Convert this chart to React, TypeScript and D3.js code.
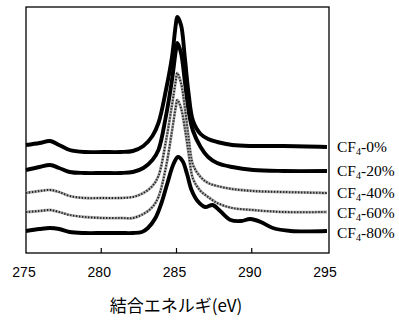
import * as d3 from 'd3'
import React, { useEffect, useRef } from 'react'

// binding energy (eV) sample points
const energy0 = [275.0, 275.9, 276.6, 277.2, 277.9, 278.9, 280.1, 281.3, 282.1, 282.8, 283.4, 283.8, 284.3, 284.7, 284.95, 285.05, 285.3, 285.55, 285.8, 286.1, 286.6, 287.1, 287.7, 288.7, 290.1, 292.1, 295.0]
const cf0 = [108, 110, 112, 108, 103, 101, 101, 101, 102, 107, 117, 130, 163, 196, 228, 236, 228, 196, 160, 132, 119, 114, 111, 108, 107, 107, 106]
const cf20 = [83, 86, 88, 85, 81, 80, 80, 80, 81, 85, 93, 103, 137, 173, 202, 210, 200, 172, 142, 122, 106, 96, 90, 86, 83, 82, 82]
const cf40 = [60, 62, 63, 61, 57, 55, 55, 55, 56, 60, 67, 77, 112, 148, 172, 180, 170, 146, 116, 88, 76, 70, 67, 64, 62, 61, 60]
const cf60 = [41, 42, 43, 41, 38, 36, 35, 35, 35, 39, 46, 56, 86, 122, 146, 153, 145, 125, 100, 74, 62, 56, 50, 45, 43, 41, 41]

// the 80% curve has its own shoulders
const energy80 = [275.0, 275.9, 276.6, 277.2, 277.9, 278.9, 280.1, 281.3, 282.1, 282.7, 283.1, 283.6, 284.0, 284.4, 284.8, 285.1, 285.4, 285.7, 286.0, 286.4, 286.9, 287.4, 287.9, 288.6, 289.3, 289.9, 290.6, 291.4, 292.6, 295.0]
const cf80 = [22, 24, 25, 24, 21, 20, 20, 20, 20, 21, 25, 35, 50, 70, 89, 96, 92, 79, 63, 52, 46, 48, 42, 33, 32, 34, 31, 25, 22, 22]

const seriesNames = ['0%', '20%', '40%', '60%', '80%']
const xTicks = [275, 280, 285, 290, 295]

const App = () => {
    const myRef = useRef(null)

    useEffect(() => {
        const w = 399
        const h = 324
        const root = myRef.current

        d3.select(root).select('svg').remove()

        const svg = d3.select(root)
            .append('svg')
            .attr('width', w)
            .attr('height', h)
            .style('position', 'absolute')
            .style('left', '0px')
            .style('top', '0px')
            .style('background', '#fff')

        const x = d3.scaleLinear().domain([275, 295]).range([26, 327])
        const y = d3.scaleLinear().domain([0, 246]).range([253, 7])

        const series = [
            { name: seriesNames[0], xs: energy0, ys: cf0, dotted: false },
            { name: seriesNames[1], xs: energy0, ys: cf20, dotted: false },
            { name: seriesNames[2], xs: energy0, ys: cf40, dotted: true },
            { name: seriesNames[3], xs: energy0, ys: cf60, dotted: true },
            { name: seriesNames[4], xs: energy80, ys: cf80, dotted: false },
        ]

        // frame
        svg.append('rect')
            .attr('x', x(275))
            .attr('y', y(246))
            .attr('width', x(295) - x(275) + 2)
            .attr('height', y(0) - y(246))
            .attr('fill', 'none')
            .attr('stroke', '#000')
            .attr('stroke-width', 1.3)

        // small inner ticks on the bottom axis
        svg.selectAll('.tick')
            .data(xTicks.slice(1, -1))
            .enter()
            .append('line')
            .attr('x1', (d) => x(d))
            .attr('x2', (d) => x(d))
            .attr('y1', y(0))
            .attr('y2', y(0) - 5)
            .attr('stroke', '#000')
            .attr('stroke-width', 1.2)

        svg.selectAll('.tickLabel')
            .data(xTicks)
            .enter()
            .append('text')
            .attr('x', (d) => x(d) - 2)
            .attr('y', 277)
            .attr('text-anchor', 'middle')
            .style('font-family', '"Liberation Sans", Arial, sans-serif')
            .style('font-size', '14px')
            .text((d) => d)

        const line = d3.line()
            .x((d) => x(d[0]))
            .y((d) => y(d[1]))
            .curve(d3.curveCatmullRom.alpha(0.5))

        series.forEach((s) => {
            const pts = s.xs.map((e, i) => [e, s.ys[i]])
            if (s.dotted) {
                svg.append('path')
                    .attr('d', line(pts))
                    .attr('fill', 'none')
                    .attr('stroke', '#aaa')
                    .attr('stroke-width', 2.8)
                svg.append('path')
                    .attr('d', line(pts))
                    .attr('fill', 'none')
                    .attr('stroke', '#222')
                    .attr('stroke-width', 2)
                    .attr('stroke-dasharray', '1.3 1.7')
            } else {
                svg.append('path')
                    .attr('d', line(pts))
                    .attr('fill', 'none')
                    .attr('stroke', '#000')
                    .attr('stroke-width', 3.9)
                    .attr('stroke-linejoin', 'round')
            }
        })

        // series labels, pushed apart so they don't collide
        let prev = -Infinity
        series.forEach((s) => {
            let ly = y(s.ys[s.ys.length - 1]) + 5
            if (ly - prev < 20) ly = prev + 20
            prev = ly
            const t = svg.append('text')
                .attr('x', 337)
                .attr('y', ly)
                .style('font-family', '"Liberation Serif", "Times New Roman", serif')
                .style('font-size', '15.5px')
            t.append('tspan').text('CF')
            t.append('tspan').attr('dy', 3).style('font-size', '10px').text('4')
            t.append('tspan').attr('dy', -3).text('-' + s.name)
        })

        svg.append('text')
            .attr('x', 176)
            .attr('y', 312)
            .attr('text-anchor', 'middle')
            .style('font-family', '"Noto Sans CJK JP", sans-serif')
            .style('font-size', '17px')
            .text('結合エネルギ(eV)')
    }, [])

    return <div ref={myRef} />
}

export default App
